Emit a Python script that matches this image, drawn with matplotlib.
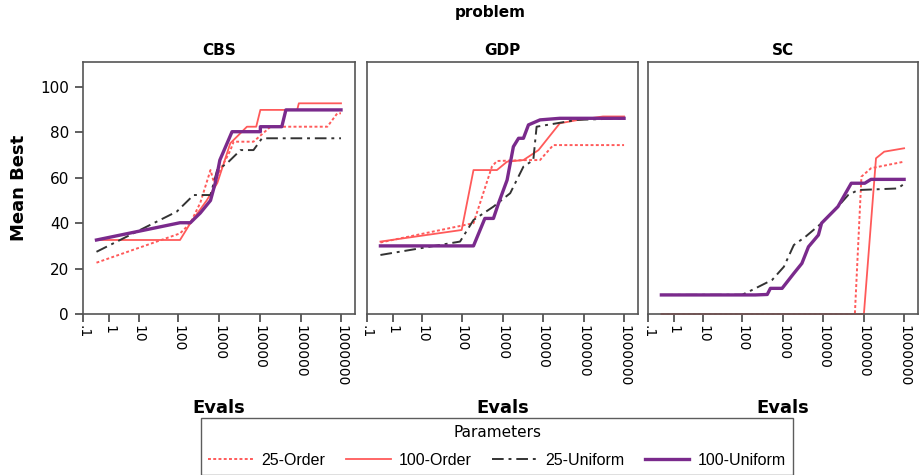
import numpy as np
import matplotlib
matplotlib.use("Agg")
import matplotlib.pyplot as plt

plt.rcParams['font.family'] = ['DejaVu Sans']

problems = ["CBS", "GDP", "SC"]
series_names = ["25-Order", "100-Order", "25-Uniform", "100-Uniform"]
tick_vals = [0.1, 1, 10, 100, 1000, 10000, 100000, 1000000]
tick_labels = [".1", "1", "10", "100", "1000", "10000", "100000", "1000000"]

# CBS
cbs_25o_x = [0.33, 112, 200, 350, 620, 750, 1900, 2300, 7100, 18600, 460000, 810000, 1e6]
cbs_25o_y = [22.6, 35.5, 40, 49, 63.4, 58, 72, 75.9, 75.9, 82.5, 82.5, 88.4, 88.4]
cbs_100o_x = [0.33, 112, 200, 500, 910, 1900, 4900, 8300, 10500, 83000, 91000, 1e6]
cbs_100o_y = [32.6, 32.6, 40, 50, 57.7, 75.2, 82.5, 82.5, 89.9, 89.9, 92.8, 92.8]
cbs_25u_x = [0.33, 93, 240, 620, 900, 1580, 3400, 7100, 11500, 1e6]
cbs_25u_y = [27.4, 45.1, 52.4, 52.4, 63.4, 66.4, 72.2, 72.2, 77.4, 77.4]
cbs_100u_x = [0.33, 112, 200, 350, 620, 810, 910, 1050, 2100, 10500, 10500, 35000, 44000, 1e6]
cbs_100u_y = [32.6, 40.2, 40.2, 44.5, 50, 57.7, 62, 67.8, 80.3, 80.3, 82.5, 82.5, 89.9, 89.9]

# GDP
gdp_25o_x = [0.33, 195, 550, 730, 4000, 8500, 18000, 1e6]
gdp_25o_y = [31.5, 40, 64.9, 67.4, 67.8, 67.8, 74.4, 74.4]
gdp_100o_x = [0.33, 100, 195, 730, 1300, 3300, 7800, 26000, 74000, 300000, 1e6]
gdp_100o_y = [31.9, 37, 63.4, 63.4, 67.1, 67.8, 72.2, 84, 85.5, 87, 87]
gdp_25u_x = [0.33, 91, 195, 600, 1550, 3300, 5800, 7000, 68000, 1e6]
gdp_25u_y = [26, 31.9, 41.4, 47.3, 53.2, 64.9, 67.8, 82.5, 85.5, 86.2]
gdp_100u_x = [0.33, 195, 370, 600, 800, 1300, 1860, 2500, 3300, 4400, 8500, 26000, 1e6]
gdp_100u_y = [30, 30, 42.1, 42.1, 48.8, 59, 73.7, 77.4, 77.4, 83.3, 85.5, 86.2, 86.2]

# SC
sc_25o_x = [0.33, 60000, 87000, 150000, 1e6]
sc_25o_y = [0, 0, 60.5, 64.2, 67.1]
sc_100o_x = [0.33, 100000, 200000, 320000, 1e6]
sc_100o_y = [0, 0, 68.6, 71.5, 73]
sc_25u_x = [0.33, 100, 175, 540, 1050, 1860, 3600, 9100, 23000, 41000, 72000, 690000, 1e6]
sc_25u_y = [8.4, 8.5, 10.6, 15, 20.8, 30.4, 34, 40, 47.3, 52.4, 54.6, 55.3, 57.3]
sc_100u_x = [0.33, 210, 410, 490, 950, 1860, 2950, 4300, 7600, 9100, 23000, 49000, 105000, 150000, 1e6]
sc_100u_y = [8.4, 8.4, 8.6, 11.3, 11.3, 17.9, 22.3, 29.6, 34.8, 40, 47.3, 57.6, 57.6, 59.3, 59.3]

data = {
    "CBS": [(cbs_25o_x, cbs_25o_y), (cbs_100o_x, cbs_100o_y), (cbs_25u_x, cbs_25u_y), (cbs_100u_x, cbs_100u_y)],
    "GDP": [(gdp_25o_x, gdp_25o_y), (gdp_100o_x, gdp_100o_y), (gdp_25u_x, gdp_25u_y), (gdp_100u_x, gdp_100u_y)],
    "SC": [(sc_25o_x, sc_25o_y), (sc_100o_x, sc_100o_y), (sc_25u_x, sc_25u_y), (sc_100u_x, sc_100u_y)],
}

styles = [
    dict(color="#ff5a5a", ls=(0, (1.5, 1.2)), lw=1.4),
    dict(color="#ff5a5a", ls="-", lw=1.3),
    dict(color="#333333", ls=(0, (6, 2.5, 1.5, 2.5)), lw=1.4),
    dict(color="#7a2a8c", ls="-", lw=2.4),
]

# the tool's axis spacing is not a pure log scale: the first decades are squeezed
tick_logs = np.log10(tick_vals)
tick_pos = np.array([0, 26, 55.5, 95, 136, 176.5, 217.5, 258])


def fwd(x):
    lx = np.log10(np.clip(np.asarray(x, dtype=float), 1e-6, None))
    p = np.interp(lx, tick_logs, tick_pos)
    p = np.where(lx > tick_logs[-1], tick_pos[-1] + (lx - tick_logs[-1]) * 40.5, p)
    p = np.where(lx < tick_logs[0], tick_pos[0] + (lx - tick_logs[0]) * 26, p)
    return p


def inv(p):
    p = np.asarray(p, dtype=float)
    lx = np.interp(p, tick_pos, tick_logs)
    lx = np.where(p > tick_pos[-1], tick_logs[-1] + (p - tick_pos[-1]) / 40.5, lx)
    lx = np.where(p < tick_pos[0], tick_logs[0] + (p - tick_pos[0]) / 26, lx)
    return 10 ** lx


W, H = 922, 475
fig = plt.figure(figsize=(W / 100, H / 100), dpi=100)
lefts = [83, 367, 648]
rights = [355, 638, 918]
top, bottom = 62, 314

for i, prob in enumerate(problems):
    ax = fig.add_axes([lefts[i] / W, 1 - bottom / H, (rights[i] - lefts[i]) / W, (bottom - top) / H])
    ax.set_xscale('function', functions=(fwd, inv))
    for (xs, ys), st in zip(data[prob], styles):
        ax.plot(xs, ys, clip_on=False, **st)
    ax.set_xlim(0.1, inv(272))
    ax.set_ylim(0, 111)
    ax.set_xticks(tick_vals)
    ax.set_xticklabels(tick_labels, rotation=270, fontsize=10)
    ax.minorticks_off()
    ax.set_yticks([0, 20, 40, 60, 80, 100])
    if i == 0:
        ax.set_yticklabels(["0", "20", "40", "60", "80", "100"], fontsize=11)
        ax.set_ylabel("Mean Best", fontsize=13, fontweight="bold", labelpad=9)
    else:
        ax.tick_params(axis='y', left=False, labelleft=False)
    ax.tick_params(direction='out', length=6, width=1.2, color="#444444", pad=2)
    ax.tick_params(axis='y', pad=4)
    for s in ax.spines.values():
        s.set_color("#555555")
        s.set_linewidth(1.2)
    ax.set_title(prob, fontsize=11, fontweight="bold", pad=5)
    fig.text((lefts[i] + rights[i]) / 2 / W, 1 - 408 / H, "Evals",
             ha="center", va="center", fontsize=13, fontweight="bold")

fig.text(490 / W, 1 - 13 / H, "problem", ha="center", va="center", fontsize=11, fontweight="bold")

handles = [plt.Line2D([], [], **st) for st in styles]
leg = fig.legend(handles, series_names, loc="upper center", ncol=4,
                 bbox_to_anchor=(497 / W, 1 - 418 / H),
                 prop={"family": "Liberation Sans", "size": 11.5},
                 title="Parameters", title_fontproperties={"family": "DejaVu Sans", "size": 11},
                 frameon=True, fancybox=False, edgecolor="#333333", handlelength=2.8,
                 columnspacing=1.3, handletextpad=0.5, borderpad=0.45,
                 labelspacing=0.8, borderaxespad=0)
leg.get_frame().set_linewidth(1.0)

fig.savefig("out.png", dpi=100)
